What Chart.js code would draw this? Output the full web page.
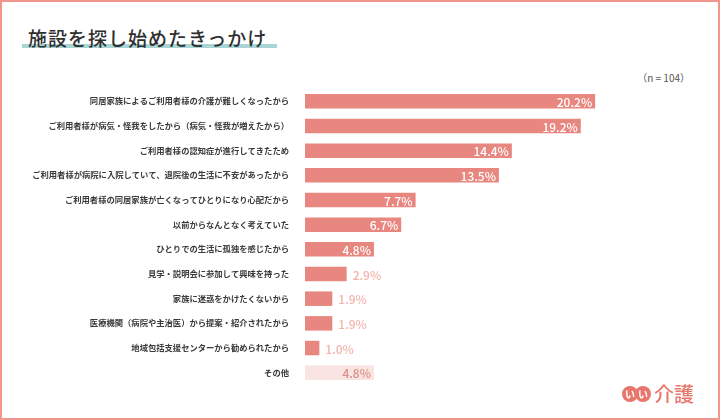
<!DOCTYPE html>
<html lang="ja">
<head>
<meta charset="utf-8">
<script src="https://cdn.jsdelivr.net/npm/chart.js@4"></script>
<style>
  html, body { margin: 0; padding: 0; background: #fff; }
  body { width: 720px; height: 420px; position: relative; overflow: hidden;
         font-family: "Noto Sans CJK JP", "Noto Sans", sans-serif; }
  .frame { position: absolute; left: 0; top: 0; width: 716px; height: 416px;
           border: 2px solid #F0968C; }
  .title { position: absolute; left: 28px; top: 24px; font-size: 19px; font-weight: 500;
           color: #2f2f2f; letter-spacing: 1px; z-index: 2; }
  .title-bar { position: absolute; left: 22px; top: 44px; width: 255px; height: 4px;
               background: #A9D5D7; z-index: 1; }
  .note { position: absolute; right: 30px; top: 70px; font-size: 10px; color: #555; }
  .wrap { position: absolute; left: 0; top: 76px; width: 720px; height: 322px; }
  .logo { position: absolute; left: 622px; top: 379px; display: flex; align-items: center; }
  .logo .dot { width: 16px; height: 16px; border-radius: 50%; background: #E8766C; color: #fff;
               font-size: 10px; font-weight: bold; line-height: 16px; text-align: center; margin-right: -3px; }
  .logo .kanji { font-size: 20px; font-weight: 500; color: #E8766C; margin-left: 6px; }
</style>
</head>
<body>
<div class="frame"></div>
<div class="title-bar"></div>
<div class="title">施設を探し始めたきっかけ</div>
<div class="note">（n = 104）</div>
<div class="wrap"><canvas id="chart"></canvas></div>
<div class="logo"><span class="dot">い</span><span class="dot">い</span><span class="kanji">介護</span></div>
<script>
const reasons = [
    '同居家族によるご利用者様の介護が難しくなったから',
    'ご利用者様が病気・怪我をしたから（病気・怪我が増えたから）',
    'ご利用者様の認知症が進行してきたため',
    'ご利用者様が病院に入院していて、退院後の生活に不安があったから',
    'ご利用者様の同居家族が亡くなってひとりになり心配だから',
    '以前からなんとなく考えていた',
    'ひとりでの生活に孤独を感じたから',
    '見学・説明会に参加して興味を持った',
    '家族に迷惑をかけたくないから',
    '医療機関（病院や主治医）から提案・紹介されたから',
    '地域包括支援センターから勧められたから',
    'その他',
];
const shares = [20.2, 19.2, 14.4, 13.5, 7.7, 6.7, 4.8, 2.9, 1.9, 1.9, 1.0, 4.8];

const barColor = '#E8877F';
const otherColor = '#FAE4E1';
const colors = reasons.map((r) => r === 'その他' ? otherColor : barColor);

const valueLabels = {
    id: 'valueLabels',
    afterDatasetsDraw: function(chart) {
        const ctx = chart.ctx;
        const meta = chart.getDatasetMeta(0);
        ctx.save();
        ctx.font = '500 12px "Noto Sans CJK JP", "Noto Sans", sans-serif';
        ctx.textBaseline = 'middle';
        meta.data.forEach((bar, i) => {
            const v = shares[i];
            const text = v.toFixed(1) + '%';
            if (reasons[i] === 'その他') {
                ctx.fillStyle = '#D98E89';
                ctx.textAlign = 'right';
                ctx.fillText(text, bar.x - 3, bar.y + 1);
            } else if (v >= 4) {
                ctx.fillStyle = '#ffffff';
                ctx.textAlign = 'right';
                ctx.fillText(text, bar.x - 3, bar.y + 1);
            } else {
                ctx.fillStyle = '#F4B2AC';
                ctx.textAlign = 'left';
                ctx.fillText(text, bar.x + 6, bar.y + 1);
            }
        });
        ctx.restore();
    }
};

new Chart(document.getElementById('chart').getContext('2d'), {
    type: 'bar',
    data: {
        labels: reasons,
        datasets: [{
            data: shares,
            backgroundColor: colors,
            borderWidth: 0,
            barPercentage: 0.6,
            categoryPercentage: 0.98,
        }],
    },
    options: {
        indexAxis: 'y',
        responsive: true,
        maintainAspectRatio: false,
        animation: false,
        layout: { padding: { left: 0, right: 20, top: 0, bottom: 0 } },
        plugins: {
            legend: { display: false },
            tooltip: { enabled: false },
        },
        scales: {
            x: {
                display: false,
                min: 0,
                max: 27.5,
            },
            y: {
                grid: { display: false },
                border: { display: false },
                ticks: {
                    color: '#3a3a3a',
                    padding: 8,
                    font: { family: '"Noto Sans CJK JP", "Noto Sans", sans-serif', size: 8.3, weight: 'bold' },
                },
                afterFit: function(scale) {
                    scale.width = 305;
                },
            },
        },
    },
    plugins: [valueLabels],
});
</script>
</body>
</html>
